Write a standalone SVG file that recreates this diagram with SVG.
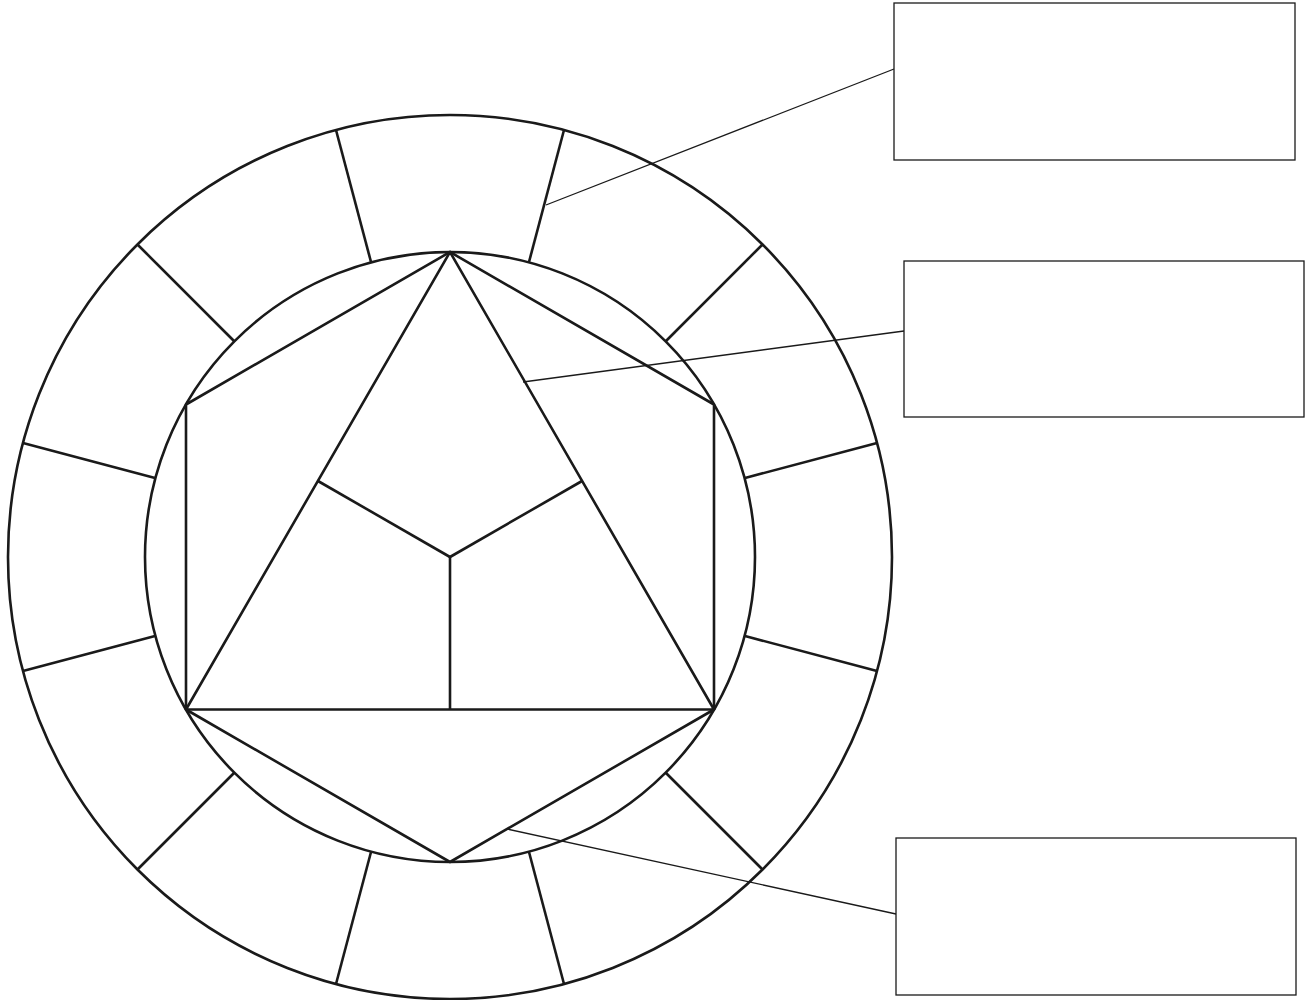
<svg xmlns="http://www.w3.org/2000/svg" width="1311" height="1000" viewBox="0 0 1311 1000">
<style>
.w{fill:none;stroke:#1a1a1a;stroke-width:2.6;stroke-linejoin:round}
.box{fill:#fff;stroke:#1a1a1a;stroke-width:1.3}
.lead{fill:none;stroke:#1a1a1a;stroke-width:1.3}
</style>
<rect width="1311" height="1000" fill="#fff"/>
<g id="wheel">
<circle class="w" cx="450" cy="557" r="442"/>
<circle class="w" cx="450" cy="557" r="305"/>
<g id="ring-dividers" class="w">
<line x1="371" y1="262" x2="336" y2="130"/>
<line x1="529" y1="262" x2="564" y2="130"/>
<line x1="234" y1="341" x2="137" y2="244"/>
<line x1="666" y1="341" x2="763" y2="244"/>
<line x1="155" y1="478" x2="23" y2="443"/>
<line x1="745" y1="478" x2="877" y2="443"/>
<line x1="155" y1="636" x2="23" y2="671"/>
<line x1="745" y1="636" x2="877" y2="671"/>
<line x1="234" y1="773" x2="137" y2="870"/>
<line x1="666" y1="773" x2="763" y2="870"/>
<line x1="371" y1="852" x2="336" y2="984"/>
<line x1="529" y1="852" x2="564" y2="984"/>
</g>
<polygon id="hexagon" class="w" points="450,252 714,404.5 714,709.5 450,862 186,709.5 186,404.5"/>
<polygon id="triangle" class="w" points="450,252 714,709.5 186,709.5"/>
<g id="triangle-split" class="w">
<line x1="450" y1="557" x2="450" y2="709.5"/>
<line x1="450" y1="557" x2="318" y2="481"/>
<line x1="450" y1="557" x2="582" y2="481"/>
</g>
</g>
<g id="connectors">
<line class="lead" x1="894" y1="69" x2="546" y2="205"/>
<line class="lead" x1="904" y1="331" x2="523" y2="382"/>
<line class="lead" x1="896" y1="914" x2="507" y2="829"/>
</g>
<g id="box1"><rect class="box" x="894" y="3" width="401" height="157"/></g>
<g id="box2"><rect class="box" x="904" y="261" width="400" height="156"/></g>
<g id="box3"><rect class="box" x="896" y="838" width="400" height="157"/></g>
</svg>
